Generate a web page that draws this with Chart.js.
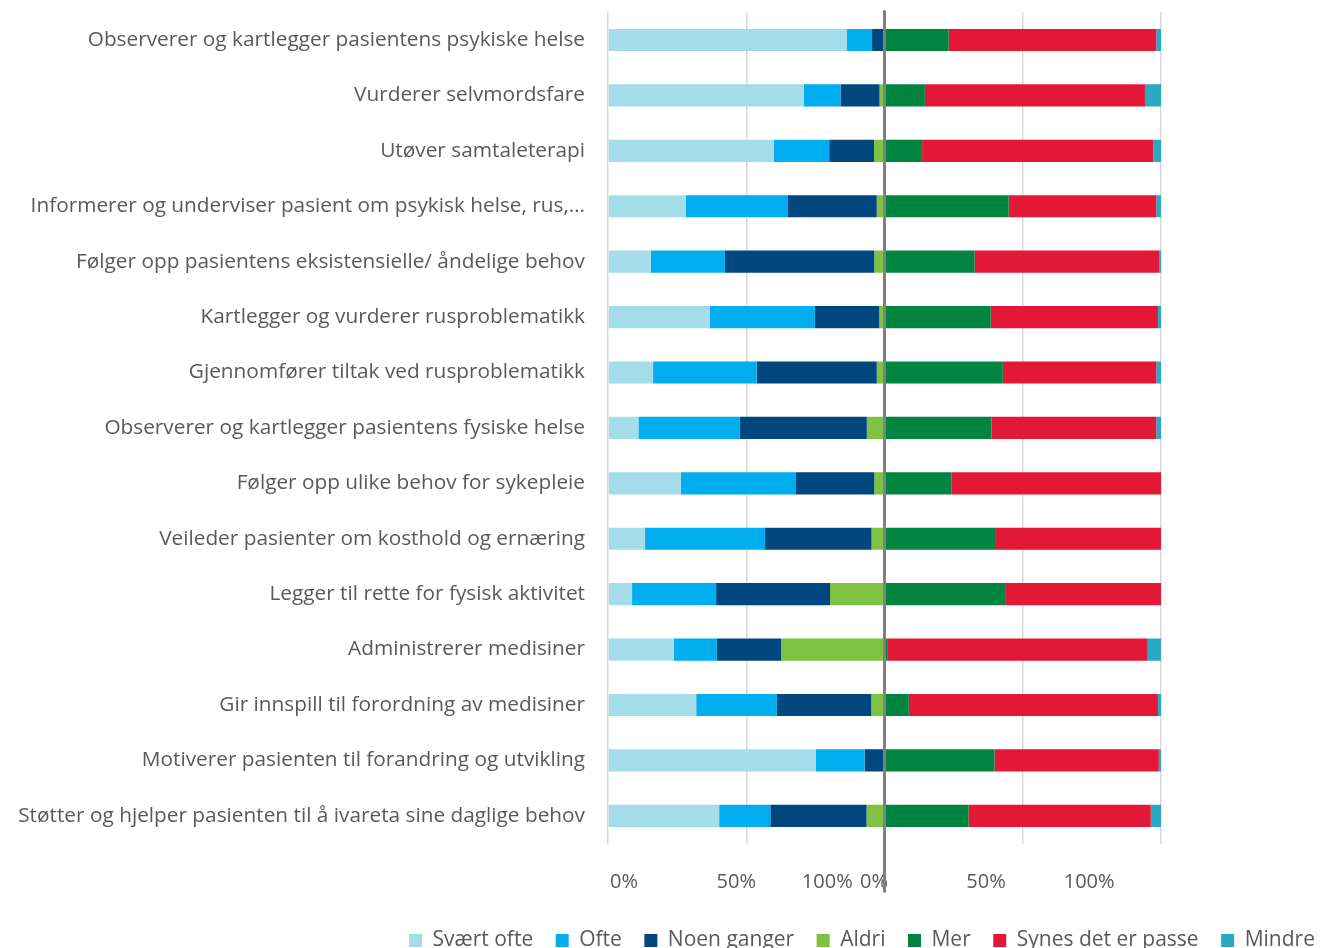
<!DOCTYPE html>
<html lang="no">
<head>
<meta charset="utf-8">
<title>Sykepleieoppgaver</title>
<script src="https://cdn.jsdelivr.net/npm/chart.js@4.4.1/dist/chart.umd.min.js"></script>
<style>
  html, body { margin: 0; padding: 0; background: #fff; overflow: hidden; }
  #wrap { position: absolute; left: 0; top: 0; }
</style>
</head>
<body>
<div id="wrap"><canvas id="chart" width="1724" height="961"></canvas></div>
<script>
const categories = [
    'Observerer og kartlegger pasientens psykiske helse',
    'Vurderer selvmordsfare',
    'Utøver samtaleterapi',
    'Informerer og underviser pasient om psykisk helse, rus,…',
    'Følger opp pasientens eksistensielle/ åndelige behov',
    'Kartlegger og vurderer rusproblematikk',
    'Gjennomfører tiltak ved rusproblematikk',
    'Observerer og kartlegger pasientens fysiske helse',
    'Følger opp ulike behov for sykepleie',
    'Veileder pasienter om kosthold og ernæring',
    'Legger til rette for fysisk aktivitet',
    'Administrerer medisiner',
    'Gir innspill til forordning av medisiner',
    'Motiverer pasienten til forandring og utvikling',
    'Støtter og hjelper pasienten til å ivareta sine daglige behov',
];

// Hvor ofte (venstre del, summerer til 100 %)
const svaertOfte = [86.3, 70.8, 60.0, 28.1, 15.5, 36.8, 16.3, 11.0, 26.3, 13.4, 8.7, 23.8, 31.9, 75.2, 40.2];
const ofte = [9.2, 13.3, 20.0, 37.0, 26.8, 38.0, 37.5, 36.7, 41.7, 43.4, 30.4, 15.6, 29.2, 17.6, 18.5];
const noenGanger = [4.5, 14.1, 16.2, 32.1, 54.0, 23.3, 43.4, 45.9, 28.3, 38.5, 41.2, 23.2, 34.1, 7.2, 34.8];
const aldri = [0, 1.8, 3.8, 2.8, 3.7, 1.9, 2.8, 6.4, 3.7, 4.7, 19.7, 37.4, 4.8, 0, 6.5];

// Ønsket omfang (høyre del, summerer til 100 %)
const mer = [23.2, 14.6, 13.6, 44.9, 32.6, 38.4, 42.8, 38.7, 24.3, 40.3, 43.9, 1.2, 8.8, 39.8, 30.4];
const synesPasse = [75.1, 79.6, 83.6, 53.4, 66.7, 60.5, 55.5, 59.6, 75.7, 59.7, 56.1, 94.0, 90.1, 59.4, 65.9];
const mindre = [1.7, 5.8, 2.8, 1.7, 0.7, 1.1, 1.7, 1.7, 0, 0, 0, 4.8, 1.1, 0.8, 3.7];

const tickLabels = ['0%', '50%', '100%', '0%', '50%', '100%'];
const tickSpots = [5.8, 46.4, 79.3, 96.2, 136.7, 174];

const textColor = '#595959';
const fontFamily = '"Open Sans", "Noto Sans", sans-serif';

// tykk grå strek som skiller de to delene
const centerLine = {
    id: 'centerLine',
    afterDatasetsDraw(chart) {
        const { ctx, chartArea, scales } = chart;
        const px = scales.x.getPixelForValue(100);
        ctx.save();
        ctx.strokeStyle = '#808080';
        ctx.lineWidth = 3;
        ctx.beginPath();
        ctx.moveTo(px, chartArea.top - 2);
        ctx.lineTo(px, chartArea.bottom + 49);
        ctx.stroke();
        ctx.restore();
    }
};

const makeSet = (label, data, color) => ({
    label,
    data,
    backgroundColor: color,
    borderWidth: 0,
    barPercentage: 0.4,
    categoryPercentage: 1.0,
    xAxisID: 'x',
    yAxisID: 'y',
});

new Chart(document.getElementById('chart'), {
    type: 'bar',
    data: {
        labels: categories,
        datasets: [
            makeSet('Svært ofte', svaertOfte, '#a4dde9'),
            makeSet('Ofte', ofte, '#00aeef'),
            makeSet('Noen ganger', noenGanger, '#00467f'),
            makeSet('Aldri', aldri, '#7dc243'),
            makeSet('Mer', mer, '#008540'),
            makeSet('Synes det er passe', synesPasse, '#e31837'),
            makeSet('Mindre', mindre, '#2aa9c4'),
        ]
    },
    options: {
        indexAxis: 'y',
        responsive: false,
        animation: false,
        layout: {
            padding: { top: 12.3, left: 0, right: 0, bottom: 0 }
        },
        scales: {
            x: {
                type: 'linear',
                stacked: true,
                min: 0,
                max: 200,
                position: 'bottom',
                ticks: { display: false, stepSize: 50 },
                grid: { color: '#d9d9d9', lineWidth: 1.5, drawTicks: false },
                border: { display: false },
                afterFit: (scale) => { scale.height = 0; }
            },
            xLabels: {
                type: 'linear',
                min: 0,
                max: 200,
                position: 'bottom',
                grid: { display: false, drawTicks: false },
                border: { display: false },
                afterBuildTicks: (scale) => {
                    scale.ticks = tickSpots.map(v => ({ value: v }));
                },
                ticks: {
                    autoSkip: false,
                    maxRotation: 0,
                    padding: 27,
                    color: textColor,
                    font: { family: fontFamily, size: 20 },
                    callback: (value, index) => tickLabels[index]
                },
                afterFit: (scale) => {
                    scale.height = 64;
                    scale.paddingLeft = 0;
                    scale.paddingRight = 0;
                }
            },
            y: {
                stacked: true,
                grid: { display: false, drawTicks: false },
                border: { display: false },
                ticks: {
                    padding: 23,
                    color: textColor,
                    font: { family: fontFamily, size: 20.8 }
                },
                afterFit: (scale) => {
                    scale.width = 608;
                    scale.paddingTop = 0;
                    scale.paddingBottom = 0;
                }
            },
            spacer: {
                type: 'linear',
                position: 'right',
                grid: { display: false, drawTicks: false },
                border: { display: false },
                ticks: { display: false },
                afterFit: (scale) => {
                    scale.width = 563;
                    scale.paddingTop = 0;
                    scale.paddingBottom = 0;
                }
            }
        },
        plugins: {
            legend: {
                position: 'bottom',
                labels: {
                    boxWidth: 13,
                    boxHeight: 13,
                    padding: 22.5,
                    color: textColor,
                    font: { family: fontFamily, size: 21 }
                }
            },
            tooltip: { enabled: false }
        }
    },
    plugins: [centerLine]
});
</script>
</body>
</html>
